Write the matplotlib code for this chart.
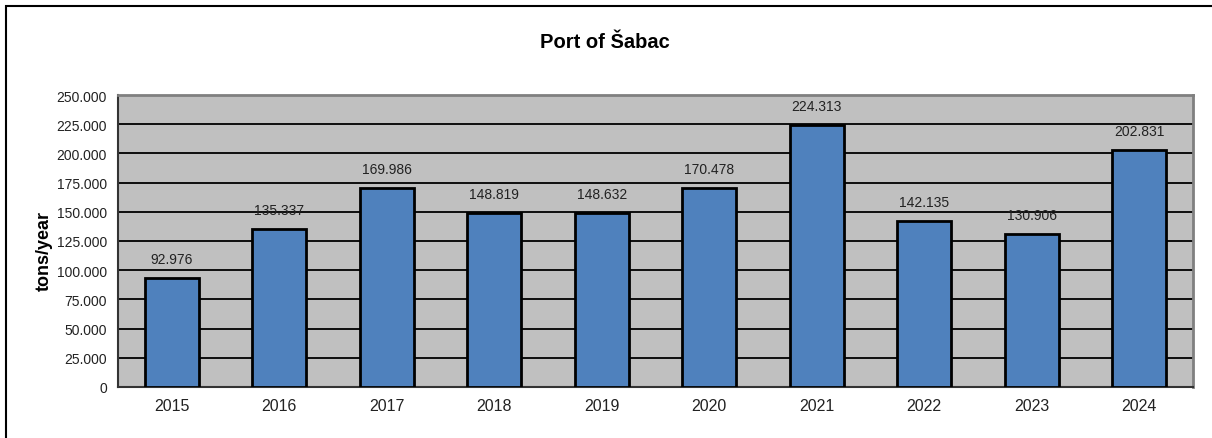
import matplotlib.pyplot as plt
from matplotlib.patches import Rectangle

years = ['2015', '2016', '2017', '2018', '2019', '2020', '2021', '2022', '2023', '2024']
tons = [92976, 135337, 169986, 148819, 148632, 170478, 224313, 142135, 130906, 202831]
labels = ['92.976', '135.337', '169.986', '148.819', '148.632', '170.478', '224.313', '142.135', '130.906', '202.831']
yticks = [0, 25000, 50000, 75000, 100000, 125000, 150000, 175000, 200000, 225000, 250000]

plt.rcParams['font.family'] = ['Liberation Sans', 'DejaVu Sans']

fig = plt.figure(figsize=(12.12, 4.39), dpi=100)
# outer chart frame, only left and top edges fall inside the image
fig.patches.append(Rectangle((6 / 1212, -0.1), 1.2, 1.1 - 7 / 439,
                             transform=fig.transFigure, fill=False,
                             edgecolor='black', linewidth=1.5))
ax = fig.add_axes([118 / 1212, 1 - 388 / 439, (1193 - 118) / 1212, (388 - 96) / 439])
ax.set_facecolor('#C0C0C0')

x = range(len(years))
ax.bar(x, tons, width=0.5, color='#4F81BD', edgecolor='black', linewidth=2, zorder=3)
for i, v in enumerate(tons):
    ax.text(i, v + 16500, labels[i], ha='center', va='center', fontsize=10, color='#222222', zorder=4)

ax.set_xlim(-0.5, len(years) - 0.5)
ax.set_ylim(0, 250000)
ax.set_yticks(yticks)
ax.set_yticklabels(['0' if t == 0 else '{:,}'.format(t).replace(',', '.') for t in yticks])
ax.set_xticks(list(x))
ax.set_xticklabels(years)
ax.tick_params(axis='y', length=0, labelsize=10, labelcolor='#222222', pad=8)
ax.tick_params(axis='x', length=0, labelsize=11.5, labelcolor='#222222', pad=8)
ax.yaxis.grid(True, color='black', linewidth=1.3, zorder=1)
ax.set_axisbelow(True)

ax.spines['left'].set_color('#333333')
ax.spines['bottom'].set_color('#333333')
ax.spines['left'].set_linewidth(1.5)
ax.spines['bottom'].set_linewidth(1.5)
ax.spines['top'].set_color('#808080')
ax.spines['right'].set_color('#808080')
ax.spines['top'].set_linewidth(2)
ax.spines['right'].set_linewidth(2)

ax.set_ylabel('tons/year', fontsize=13, fontweight='bold')
ax.yaxis.set_label_coords(-(118 - 53) / (1193 - 118), 0.47)
fig.text(605 / 1212, 1 - 43 / 439, 'Port of Šabac', ha='center', va='center',
         fontsize=14.5, fontweight='bold')

fig.savefig('out.png', dpi=100)
